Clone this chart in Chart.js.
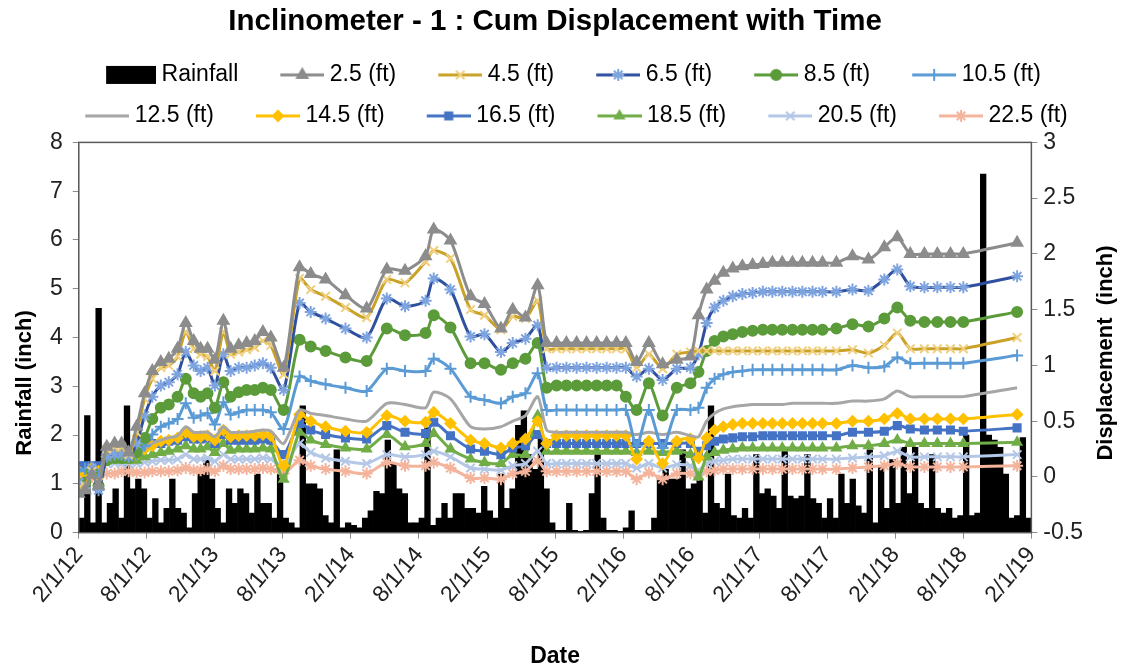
<!DOCTYPE html>
<html lang="en">
<head>
<meta charset="UTF-8">
<title>Inclinometer - 1 : Cum Displacement with Time</title>
<script src="https://cdn.jsdelivr.net/npm/chart.js"></script>
<style>
  html, body { margin: 0; padding: 0; background: #fff; }
</style>
</head>
<body>
<canvas id="myChart" width="1124" height="672"></canvas>
<script>
// survey (reading) dates, M/D/YY
const readDates = [
  '2/1/12','2/17/12','3/6/12','3/24/12','4/15/12','5/6/12','5/25/12','6/13/12',
  '7/4/12','7/26/12','8/16/12','9/8/12','9/29/12','10/23/12','11/14/12','12/5/12','12/24/12','1/12/13',
  '2/1/13','2/22/13','3/13/13','4/4/13','4/25/13','5/17/13','6/8/13','6/29/13','8/3/13',
  '9/15/13','10/15/13','11/24/13','1/17/14','3/13/14','5/6/14','6/24/14','8/19/14','9/10/14',
  '10/25/14','12/18/14','1/25/15','3/8/15','4/9/15','5/13/15','6/15/15','7/9/15',
  '8/5/15','9/1/15','9/28/15','10/25/15','11/21/15','12/18/15','1/14/16','2/8/16','3/7/16',
  '4/9/16','5/16/16','6/23/16','7/30/16',
  '8/21/16','9/12/16','10/3/16','10/27/16','11/21/16','12/17/16','1/14/17','2/10/17','3/6/17',
  '4/2/17','4/29/17','5/26/17','6/22/17','7/19/17','8/26/17',
  '10/8/17','11/20/17','1/2/18','2/6/18','3/11/18','4/18/18','5/23/18','6/27/18','8/1/18','12/24/18'
];

// cumulative displacement (inch) per depth
const d25 = [-0.15,-0.12,0.02,-0.08,0.27,0.3,0.3,0.22,
  0.45,0.75,0.95,1.03,1.06,1.15,1.38,1.22,1.15,1.15,1.05,1.4,1.15,1.18,1.2,1.22,1.3,1.25,0.98,
  1.88,1.82,1.77,1.63,1.51,1.86,1.85,1.98,2.22,2.12,1.62,1.55,1.33,1.5,1.43,1.72,1.2,
  1.2,1.2,1.2,1.2,1.2,1.2,1.2,1.2,1.03,1.2,1.01,1.05,1.08,
  1.45,1.68,1.76,1.83,1.87,1.89,1.9,1.91,1.92,1.92,1.92,1.92,1.92,1.92,1.92,
  1.98,1.95,2.06,2.15,2.0,2.0,2.0,2.0,2.0,2.1];
const d45 = [-0.1,-0.08,0.05,-0.05,0.25,0.27,0.27,0.2,
  0.4,0.7,0.88,0.98,1.0,1.08,1.3,1.15,1.1,1.08,0.95,1.3,1.1,1.12,1.14,1.16,1.22,1.18,0.92,
  1.78,1.68,1.62,1.52,1.43,1.77,1.74,1.93,2.03,1.96,1.5,1.45,1.32,1.44,1.42,1.58,1.15,
  1.15,1.15,1.15,1.15,1.15,1.15,1.15,1.15,0.98,1.1,0.97,1.1,1.12,
  1.13,1.13,1.13,1.13,1.13,1.13,1.13,1.13,1.13,1.13,1.13,1.13,1.13,1.13,1.13,
  1.14,1.11,1.18,1.29,1.15,1.15,1.15,1.15,1.15,1.25];
const d65 = [-0.05,-0.1,0.08,-0.12,0.18,0.2,0.2,0.18,
  0.3,0.55,0.72,0.82,0.85,0.92,1.12,1.0,0.95,0.98,0.82,1.1,0.95,0.98,0.98,1.0,1.02,0.98,0.78,
  1.56,1.48,1.42,1.33,1.25,1.6,1.53,1.58,1.78,1.68,1.26,1.28,1.12,1.2,1.24,1.36,0.98,
  0.98,0.98,0.98,0.98,0.98,0.98,0.98,0.98,0.9,0.97,0.87,0.97,0.98,
  1.1,1.38,1.52,1.58,1.62,1.64,1.65,1.66,1.66,1.66,1.66,1.66,1.66,1.66,1.66,
  1.68,1.67,1.77,1.86,1.71,1.7,1.7,1.7,1.7,1.8];
const d85 = [-0.08,-0.05,0.05,-0.08,0.15,0.17,0.17,0.17,
  0.22,0.35,0.52,0.62,0.65,0.72,0.88,0.75,0.72,0.75,0.62,0.85,0.72,0.76,0.78,0.78,0.8,0.78,0.6,
  1.23,1.17,1.13,1.07,1.04,1.33,1.27,1.29,1.45,1.34,1.02,1.02,0.96,1.02,1.06,1.2,0.8,
  0.82,0.82,0.82,0.82,0.82,0.82,0.82,0.72,0.6,0.84,0.55,0.8,0.84,
  0.94,1.13,1.22,1.26,1.28,1.3,1.31,1.32,1.32,1.32,1.32,1.32,1.32,1.32,1.33,
  1.37,1.35,1.42,1.52,1.4,1.39,1.39,1.39,1.39,1.48];
const d105 = [0.05,0.07,0.08,0.02,0.2,0.2,0.2,0.18,
  0.2,0.28,0.38,0.45,0.48,0.52,0.66,0.53,0.55,0.57,0.47,0.67,0.56,0.58,0.6,0.6,0.6,0.58,0.43,
  0.9,0.86,0.83,0.8,0.77,0.97,0.95,0.95,1.06,0.97,0.72,0.69,0.66,0.72,0.75,0.93,0.6,
  0.6,0.6,0.6,0.6,0.6,0.6,0.6,0.6,0.28,0.6,0.26,0.6,0.6,
  0.62,0.8,0.88,0.92,0.94,0.95,0.96,0.96,0.96,0.96,0.96,0.96,0.96,0.96,0.96,
  1.0,0.98,0.99,1.07,1.02,1.02,1.02,1.02,1.02,1.09];
const d125 = [0.08,0.06,0.08,0.05,0.17,0.18,0.17,0.18,
  0.2,0.25,0.3,0.33,0.35,0.37,0.45,0.4,0.4,0.4,0.36,0.45,0.4,0.4,0.4,0.41,0.42,0.41,0.3,
  0.6,0.57,0.55,0.52,0.5,0.66,0.65,0.62,0.76,0.7,0.45,0.43,0.45,0.5,0.55,0.72,0.42,
  0.4,0.4,0.4,0.4,0.4,0.4,0.4,0.4,0.38,0.4,0.38,0.4,0.37,
  0.36,0.5,0.57,0.61,0.63,0.64,0.65,0.65,0.65,0.65,0.66,0.66,0.66,0.66,0.66,
  0.68,0.68,0.7,0.77,0.72,0.72,0.72,0.72,0.72,0.8];
const d145 = [0.05,0.03,0.08,0.05,0.18,0.2,0.2,0.17,
  0.2,0.25,0.28,0.32,0.33,0.35,0.4,0.36,0.36,0.37,0.33,0.42,0.36,0.37,0.37,0.37,0.38,0.37,0.1,
  0.56,0.5,0.45,0.41,0.4,0.55,0.5,0.49,0.58,0.48,0.33,0.3,0.26,0.3,0.34,0.5,0.3,
  0.37,0.37,0.37,0.37,0.37,0.37,0.37,0.37,0.16,0.32,0.12,0.32,0.34,
  0.17,0.35,0.42,0.45,0.47,0.48,0.48,0.48,0.48,0.48,0.48,0.48,0.48,0.48,0.48,
  0.5,0.5,0.52,0.57,0.52,0.52,0.52,0.52,0.52,0.56];
const d165 = [0.1,0.1,0.1,0.1,0.2,0.2,0.2,0.2,
  0.22,0.27,0.3,0.3,0.32,0.33,0.36,0.34,0.34,0.35,0.3,0.38,0.33,0.33,0.33,0.33,0.34,0.33,0.2,
  0.48,0.42,0.38,0.35,0.34,0.46,0.4,0.39,0.49,0.37,0.25,0.23,0.2,0.26,0.28,0.38,0.3,
  0.3,0.3,0.3,0.3,0.3,0.3,0.3,0.3,0.3,0.3,0.3,0.3,0.3,
  0.23,0.28,0.32,0.34,0.35,0.36,0.36,0.37,0.37,0.37,0.37,0.37,0.37,0.37,0.37,
  0.4,0.4,0.41,0.46,0.43,0.42,0.42,0.42,0.41,0.44];
const d185 = [-0.05,-0.08,0.06,-0.05,0.15,0.17,0.15,0.15,
  0.15,0.18,0.2,0.22,0.23,0.25,0.28,0.25,0.25,0.27,0.22,0.3,0.24,0.25,0.25,0.25,0.26,0.25,-0.02,
  0.4,0.33,0.29,0.26,0.25,0.38,0.27,0.3,0.39,0.25,0.16,0.13,0.12,0.2,0.2,0.55,0.23,
  0.23,0.23,0.23,0.23,0.23,0.23,0.23,0.23,0.22,0.23,0.22,0.23,0.2,
  0.0,0.18,0.22,0.24,0.25,0.26,0.26,0.26,0.26,0.26,0.26,0.26,0.26,0.26,0.26,
  0.28,0.28,0.3,0.33,0.3,0.3,0.3,0.3,0.3,0.31];
const d205 = [0.05,0.05,0.06,0.05,0.12,0.12,0.12,0.12,
  0.12,0.13,0.14,0.15,0.15,0.16,0.2,0.16,0.16,0.17,0.14,0.2,0.16,0.16,0.16,0.16,0.17,0.16,0.1,
  0.3,0.22,0.17,0.14,0.12,0.2,0.18,0.2,0.23,0.18,0.08,0.07,0.06,0.1,0.12,0.23,0.12,
  0.12,0.12,0.12,0.12,0.12,0.12,0.12,0.12,0.08,0.12,0.08,0.11,0.1,
  0.06,0.12,0.14,0.15,0.16,0.16,0.16,0.16,0.16,0.16,0.16,0.16,0.16,0.16,0.16,
  0.17,0.18,0.19,0.23,0.18,0.18,0.18,0.18,0.18,0.2];
const d225 = [0.0,-0.02,0.0,0.0,0.03,0.03,0.05,0.05,
  0.04,0.04,0.05,0.05,0.05,0.06,0.08,0.06,0.06,0.07,0.05,0.1,0.07,0.07,0.07,0.07,0.08,0.07,0.03,
  0.15,0.1,0.07,0.05,0.03,0.13,0.1,0.1,0.13,0.08,-0.01,-0.01,-0.02,0.03,0.05,0.14,0.05,
  0.05,0.05,0.05,0.05,0.05,0.05,0.05,0.05,-0.02,0.04,-0.02,0.03,0.03,
  0.02,0.05,0.06,0.07,0.07,0.07,0.07,0.07,0.07,0.07,0.07,0.07,0.07,0.07,0.07,
  0.08,0.09,0.1,0.12,0.09,0.09,0.09,0.09,0.09,0.1];

// rainfall (inch), half-month totals starting 2/1/12
const rainfall = [
  0.3,2.4,0.2,4.6,0.2,0.6,0.9,0.3,2.6,0.9,
  1.1,0.9,0.3,0.7,0.2,0.5,1.1,0.5,0.4,0.1,
  0.8,1.2,1.5,1.1,0.5,0.2,0.9,0.6,0.9,0.8,
  0.4,1.2,0.6,0.6,0.3,1.2,0.3,0.2,0.1,2.6,
  1.0,1.0,0.9,0.35,0.2,1.7,0.1,0.2,0.15,0.1,
  0.3,0.45,0.85,0.8,1.9,1.4,0.9,0.8,0.2,0.2,
  0.3,2.15,0.15,0.3,0.6,0.3,0.8,0.8,0.5,0.5,
  0.4,0.95,0.45,0.3,1.2,0.5,0.9,2.2,2.5,1.6,
  1.3,2.0,0.9,0.2,0.05,0.05,0.6,0.05,0.03,0.05,
  0.8,1.6,0.3,0.05,0.05,0.03,0.1,0.45,0.05,0.05,
  0.05,0.3,1.15,1.3,1.1,1.1,1.7,0.9,1.0,1.1,
  0.4,2.6,0.6,0.5,1.2,0.35,0.3,0.5,0.3,1.6,
  0.8,0.9,0.75,0.5,1.75,0.75,0.7,0.75,1.6,0.7,
  0.6,0.3,0.7,0.3,1.2,0.6,1.1,0.55,0.4,1.7,
  0.2,1.35,0.5,1.5,0.6,1.75,0.8,1.75,0.6,0.5,
  1.6,0.5,0.4,0.5,0.3,0.35,2.0,0.35,0.4,7.35,
  2.0,1.9,1.75,1.2,0.3,0.35,1.95,0.3
];

const tickLabels = ['2/1/12','8/1/12','2/1/13','8/1/13','2/1/14','8/1/14','2/1/15','8/1/15',
  '2/1/16','8/1/16','2/1/17','8/1/17','2/1/18','8/1/18','2/1/19'];

const depthNames = ['2.5 (ft)','4.5 (ft)','6.5 (ft)','8.5 (ft)','10.5 (ft)','12.5 (ft)',
  '14.5 (ft)','16.5 (ft)','18.5 (ft)','20.5 (ft)','22.5 (ft)'];
const depthData = [d25, d45, d65, d85, d105, d125, d145, d165, d185, d205, d225];

// line colour, marker colour, marker style, marker radius
const styles = [
  ['#8c8c8c', '#8c8c8c', 'triangle', 6],
  ['#c9a227', '#f0cf7e', 'crossRot', 6],
  ['#2f4f9f', '#7ea4e0', 'star', 6],
  ['#5b9b3a', '#5b9b3a', 'circle', 5],
  ['#5b9bd5', '#5b9bd5', 'cross', 6],
  ['#a6a6a6', '#a6a6a6', false, 0],
  ['#ffc000', '#ffc000', 'rectRot', 5],
  ['#4472c4', '#4472c4', 'rect', 5],
  ['#70ad47', '#70ad47', 'triangle', 5],
  ['#b4c7e7', '#b4c7e7', 'crossRot', 6],
  ['#f4b49c', '#f4b49c', 'star', 6]
];

// date string -> months after 2/1/12
function toMonths(s) {
  const [m, d, y] = s.split('/').map(Number);
  const dim = new Date(2000 + y, m, 0).getDate();
  return (2000 + y - 2012) * 12 + (m - 2) + (d - 1) / dim;
}
const readX = readDates.map(toMonths);

// legend icons (line with marker); canvas is wider than the box so the
// icon sits close to its text like the original
const BOX_W = 62, OVER = 6, ICON_W = BOX_W + 2 * OVER, ICON_END = BOX_W + 2 * OVER - 0;
function makeIcon(st) {
  const c = document.createElement('canvas');
  c.width = ICON_W; c.height = 20;
  const g = c.getContext('2d');
  g.strokeStyle = st[0]; g.lineWidth = 3;
  g.beginPath(); g.moveTo(ICON_END - 44, 10); g.lineTo(ICON_END, 10); g.stroke();
  if (st[2]) {
    g.fillStyle = st[1]; g.strokeStyle = st[1]; g.lineWidth = 2;
    Chart.helpers.drawPoint(g, {pointStyle: st[2], radius: st[3], rotation: 0, borderWidth: 2}, ICON_END - 22, 10);
  }
  return c;
}
function makeRainIcon() {
  const c = document.createElement('canvas');
  c.width = ICON_W; c.height = 20;
  const g = c.getContext('2d');
  g.fillStyle = '#000';
  g.fillRect(ICON_END - 50, 1, 50, 18);
  return c;
}
const icons = [makeRainIcon()].concat(styles.map(makeIcon));

const datasets = [{
  type: 'bar',
  label: 'Rainfall',
  data: rainfall.map((v, k) => ({x: k * 0.5 + 0.25, y: v})),
  backgroundColor: '#000',
  borderWidth: 0,
  categoryPercentage: 1,
  barPercentage: 1,
  yAxisID: 'y',
  order: 1
}];
depthData.forEach((arr, i) => {
  const st = styles[i];
  datasets.push({
    type: 'line',
    label: depthNames[i],
    data: arr.map((v, j) => ({x: readX[j], y: v})),
    borderColor: st[0],
    backgroundColor: st[1],
    pointBackgroundColor: st[1],
    pointBorderColor: st[1],
    pointStyle: st[2] || 'circle',
    pointRadius: st[3],
    pointBorderWidth: 2,
    borderWidth: 3,
    tension: 0.25,
    yAxisID: 'y1',
    order: 0
  });
});

const FONT = "'Liberation Sans', Arial, sans-serif";
const axisTick = {family: FONT, size: 23};

// plot frame + axis titles (both read bottom-to-top as in the original)
const frame = {
  id: 'frame',
  beforeInit(chart) {
    // extra gap under the legend
    const lg = chart.legend;
    if (lg) {
      const fit = lg.fit;
      lg.fit = function () { fit.call(this); this.height += 5; };
    }
  },
  afterDatasetsDraw(chart) {
    const {ctx, chartArea: a} = chart;
    ctx.save();
    ctx.strokeStyle = '#595959';
    ctx.lineWidth = 1.5;
    ctx.strokeRect(a.left, a.top, a.right - a.left, a.bottom - a.top);
    ctx.restore();
  },
  afterDraw(chart) {
    const {ctx} = chart;
    ctx.save();
    ctx.fillStyle = '#000';
    ctx.font = "bold 22px 'Liberation Sans', Arial, sans-serif";
    ctx.textAlign = 'center';
    ctx.textBaseline = 'middle';
    ctx.translate(25, 383);
    ctx.rotate(-Math.PI / 2);
    ctx.fillText('Rainfall (inch)', 0, 0);
    ctx.restore();
    ctx.save();
    ctx.fillStyle = '#000';
    ctx.font = "bold 22px 'Liberation Sans', Arial, sans-serif";
    ctx.textAlign = 'center';
    ctx.textBaseline = 'middle';
    ctx.translate(1106, 353);
    ctx.rotate(-Math.PI / 2);
    ctx.fillText('Displacement  (inch)', 0, 0);
    ctx.restore();
  }
};

new Chart(document.getElementById('myChart').getContext('2d'), {
  type: 'bar',
  data: {datasets: datasets},
  options: {
    responsive: false,
    animation: false,
    layout: {padding: {left: 40, right: 35, top: 0, bottom: 0}},
    plugins: {
      title: {
        display: true,
        fullSize: false,
        text: 'Inclinometer - 1 : Cum Displacement with Time',
        color: '#000',
        font: {family: FONT, size: 29.5, weight: 'bold'},
        padding: {top: 4, bottom: 6}
      },
      legend: {
        display: true,
        labels: {
          color: '#000',
          font: {family: FONT, size: 23},
          usePointStyle: true,
          pointStyleWidth: BOX_W,
          padding: 18,
          sort: (a, b) => a.datasetIndex - b.datasetIndex,
          generateLabels(chart) {
            const items = Chart.defaults.plugins.legend.labels.generateLabels(chart);
            items.forEach(it => { it.pointStyle = icons[it.datasetIndex]; });
            return items;
          }
        }
      },
      tooltip: {enabled: false}
    },
    scales: {
      x: {
        type: 'linear',
        min: 0,
        max: 84,
        offset: false,
        grid: {display: true, drawOnChartArea: false, tickLength: 6, color: '#8c8c8c', offset: false},
        border: {color: '#8c8c8c'},
        afterBuildTicks(scale) {
          scale.ticks = tickLabels.map((t, i) => ({value: i * 6}));
        },
        ticks: {
          minRotation: 50,
          maxRotation: 50,
          autoSkip: false,
          color: '#222',
          font: axisTick,
          callback: (v) => tickLabels[Math.round(v / 6)]
        },
        title: {display: true, text: 'Date', color: '#000', font: {family: FONT, size: 23, weight: 'bold'}, padding: {top: 31, bottom: 2}}
      },
      y: {
        position: 'left',
        min: 0,
        max: 8,
        grid: {display: true, drawOnChartArea: false, tickLength: 6, color: '#8c8c8c'},
        border: {color: '#8c8c8c'},
        ticks: {stepSize: 1, color: '#222', font: axisTick, padding: 10}
      },
      y1: {
        position: 'right',
        min: -0.5,
        max: 3,
        grid: {display: true, drawOnChartArea: false, tickLength: 6, color: '#8c8c8c'},
        border: {color: '#8c8c8c'},
        ticks: {stepSize: 0.5, color: '#222', font: axisTick, padding: 6,
          callback: (v) => String(Math.round(v * 10) / 10)}
      }
    }
  },
  plugins: [frame]
});
</script>
</body>
</html>
